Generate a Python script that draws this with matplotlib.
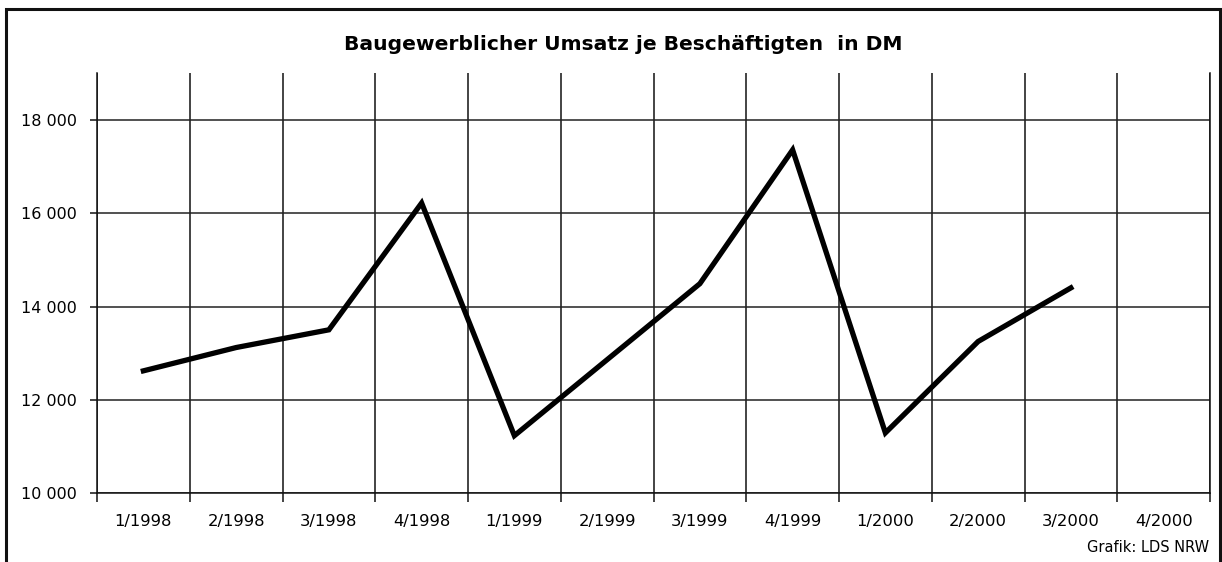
import matplotlib
matplotlib.use("Agg")
import matplotlib.pyplot as plt
from matplotlib.patches import Rectangle
from matplotlib.ticker import FuncFormatter, FixedLocator
import numpy as np

quarters = ["1/1998", "2/1998", "3/1998", "4/1998", "1/1999", "2/1999",
            "3/1999", "4/1999", "1/2000", "2/2000", "3/2000", "4/2000"]
umsatz = [12620, 13120, 13500, 16220, 11230, 12860,
          14490, 17360, 11290, 13250, 14400, np.nan]
yticks = [10000, 12000, 14000, 16000, 18000]
title = "Baugewerblicher Umsatz je Beschäftigten  in DM"
source = "Grafik: LDS NRW"

plt.rcParams['font.family'] = ['DejaVu Sans']

fig = plt.figure(figsize=(12.22, 5.62), dpi=100)
ax = fig.add_axes([97/1222, 1-493/562, (1210-97)/1222, (493-73.4)/562])

x = np.arange(len(quarters))
ax.plot(x, umsatz, color='black', lw=3.8, solid_joinstyle='miter', zorder=5)

ax.set_xlim(-0.5, len(quarters) - 0.5)
ax.set_ylim(10000, 19000)

# grid
for b in np.arange(-0.5, len(quarters) + 0.5, 1.0):
    ax.axvline(b, color='#111111', lw=1.1, zorder=2)
for yv in yticks:
    ax.axhline(yv, color='#222222', lw=1.1, zorder=2)

ax.spines['top'].set_visible(False)
for s in ['left', 'right', 'bottom']:
    ax.spines[s].set_color('#111111')
    ax.spines[s].set_linewidth(1.1)

ax.set_xticks(x)
ax.set_xticklabels(quarters, fontsize=11.8)
ax.xaxis.set_minor_locator(FixedLocator(np.arange(-0.5, len(quarters) + 0.5, 1.0)))
ax.tick_params(axis='x', which='major', length=0, pad=15)
ax.tick_params(axis='x', which='minor', length=6.5, width=1.1, direction='out', color='#111111')

ax.set_yticks(yticks)
ax.yaxis.set_major_formatter(FuncFormatter(lambda v, p: f"{int(v):,}".replace(",", " ")))
ax.tick_params(axis='y', length=5, width=1.1, direction='out', pad=9.4, labelsize=11.5, color='#111111')

fig.text(623/1222, 1 - 44/562, title, ha='center', va='center',
         fontsize=14.6, fontweight='bold')
fig.text(1209/1222, 1 - 548/562, source, ha='right', va='center', fontsize=10.5)

fig.patches.append(Rectangle((6/1222, -0.02), (1220-6)/1222, 1 - 9/562 + 0.02,
                             transform=fig.transFigure, fill=False,
                             edgecolor='#111111', lw=2.2))

fig.savefig("out.png", dpi=100, facecolor='white')
